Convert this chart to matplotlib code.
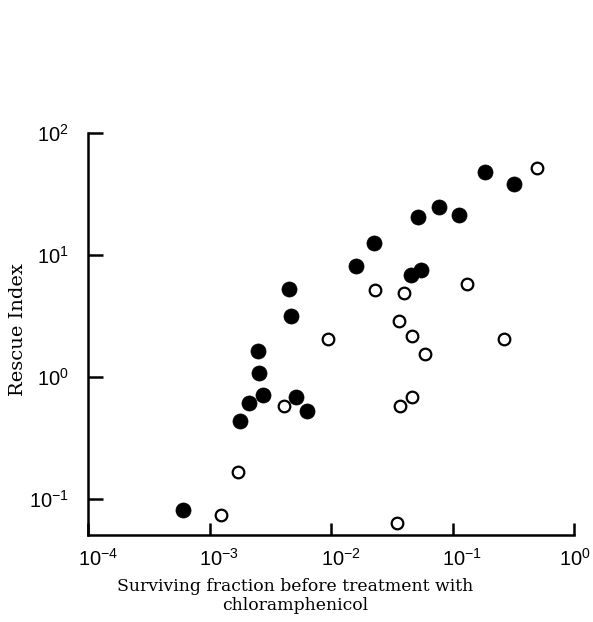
import matplotlib
matplotlib.use("Agg")
import matplotlib.pyplot as plt
import matplotlib.transforms as mtransforms

# Surviving fraction (x) and rescue index (y)
filled_x = [6.0e-4, 1.78e-3, 2.11e-3, 2.74e-3, 2.55e-3, 2.49e-3, 4.5e-3, 4.69e-3,
            5.15e-3, 6.3e-3, 0.0161, 0.0227, 0.0455, 0.0547, 0.052, 0.0775,
            0.1137, 0.184, 0.319]
filled_y = [0.081, 0.434, 0.61, 0.717, 1.08, 1.62, 5.24, 3.15,
            0.69, 0.53, 8.09, 12.5, 6.86, 7.5, 20.6, 24.9,
            21.2, 47.7, 37.9]

open_x = [1.24e-3, 1.73e-3, 4.08e-3, 9.4e-3, 0.023, 0.0401, 0.0363, 0.0461,
          0.0597, 0.0367, 0.0467, 0.0348, 0.131, 0.266, 0.499]
open_y = [0.0744, 0.166, 0.579, 2.05, 5.15, 4.86, 2.89, 2.16,
          1.55, 0.576, 0.68, 0.064, 5.73, 2.06, 51.8]

x_ticks = [1e-4, 1e-3, 1e-2, 1e-1, 1e0]
x_labels = [r"$10^{-4}$", r"$10^{-3}$", r"$10^{-2}$", r"$10^{-1}$", r"$10^{0}$"]
y_ticks = [1e-1, 1e0, 1e1, 1e2]
y_labels = [r"$10^{-1}$", r"$10^{0}$", r"$10^{1}$", r"$10^{2}$"]

plt.rcParams["mathtext.fontset"] = "custom"
plt.rcParams["mathtext.rm"] = "Liberation Sans"
plt.rcParams["mathtext.it"] = "Liberation Sans:italic"
plt.rcParams["mathtext.bf"] = "Liberation Sans:bold"

fig = plt.figure(figsize=(5.93, 6.22), dpi=100)
ax = fig.add_axes([0.1484, 0.1399, 0.8196, 0.6463])

ax.scatter(filled_x, filled_y, s=118, c="black", edgecolors="black",
           linewidths=0.5, zorder=3, clip_on=False)
ax.scatter(open_x, open_y, s=70, facecolors="white", edgecolors="black",
           linewidths=1.6, zorder=4, clip_on=False)

ax.set_xscale("log")
ax.set_yscale("log")
ax.set_xlim(1e-4, 1e0)
ax.set_ylim(10 ** -1.295, 1e2)

ax.spines["top"].set_visible(False)
ax.spines["right"].set_visible(False)
for side in ("left", "bottom"):
    ax.spines[side].set_linewidth(1.8)

ax.minorticks_off()
ax.set_xticks(x_ticks)
ax.set_xticklabels(x_labels)
ax.set_yticks(y_ticks)
ax.set_yticklabels(y_labels)
ax.tick_params(axis="both", which="minor", length=0)
ax.tick_params(axis="x", direction="in", length=9, width=1.8, pad=9,
               labelsize=14.5)
ax.tick_params(axis="y", direction="in", length=11, width=1.8, pad=14,
               labelsize=14.5)

# keep the "10" of each x label centred on its tick
for lbl, txt in zip(ax.get_xticklabels(), x_labels):
    shift = 0.5 / 72 if txt.endswith("{0}$") else 7 / 72
    lbl.set_transform(lbl.get_transform() +
                      mtransforms.ScaledTranslation(shift, 0, fig.dpi_scale_trans))

ax.set_xlabel("Surviving fraction before treatment with\nchloramphenicol",
              family="DejaVu Serif", fontsize=12.4, linespacing=1.1)
ax.xaxis.set_label_coords(0.426, -0.108)
ax.set_ylabel("Rescue Index", family="DejaVu Serif", fontsize=14)
ax.yaxis.set_label_coords(-0.125, 0.51)

fig.savefig("out.png", dpi=100)
